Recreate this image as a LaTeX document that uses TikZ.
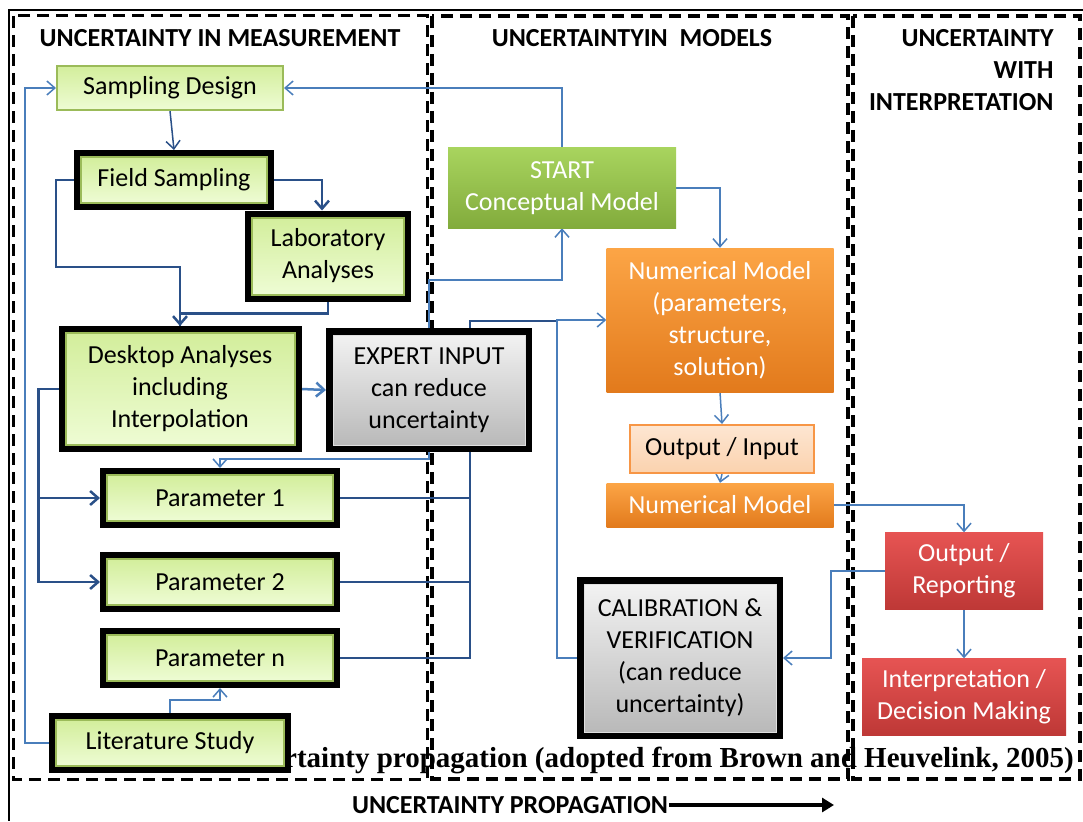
\documentclass[tikz,border=0pt]{standalone}
\usepackage{fontspec}
\setmainfont{Carlito}
\newfontfamily\capfont{Liberation Serif}
\usetikzlibrary{arrows.meta,backgrounds}
\definecolor{lineblue}{HTML}{4A7EBB}
\definecolor{darkblue}{HTML}{2A5088}
\definecolor{limetop}{HTML}{D3EE9C}
\definecolor{limebot}{HTML}{EEFCD4}
\definecolor{limeedge}{HTML}{9BBB59}
\definecolor{greytop}{HTML}{F2F2F2}
\definecolor{greybot}{HTML}{B9B9B9}
\definecolor{greentop}{HTML}{A8D45E}
\definecolor{greenbot}{HTML}{82AB3C}
\definecolor{orangetop}{HTML}{FCA546}
\definecolor{orangebot}{HTML}{E27A1C}
\definecolor{peachtop}{HTML}{FDE6D2}
\definecolor{peachbot}{HTML}{FBD2AE}
\definecolor{peachedge}{HTML}{F79646}
\definecolor{redtop}{HTML}{E65453}
\definecolor{redbot}{HTML}{BE3836}
\tikzset{
  boxtext/.style={align=center,font=\fontsize{26}{32}\selectfont},
  limebox/.style={boxtext,draw=limeedge,line width=2pt,top color=limetop,bottom color=limebot},
  greybox/.style={boxtext,draw=white!88!black,line width=1pt,top color=greytop,bottom color=greybot},
  greenbox/.style={boxtext,text=white,top color=greentop,bottom color=greenbot},
  orangebox/.style={boxtext,text=white,top color=orangetop,bottom color=orangebot},
  peachbox/.style={boxtext,draw=peachedge,line width=2pt,top color=peachtop,bottom color=peachbot},
  redbox/.style={boxtext,text=white,top color=redtop,bottom color=redbot},
  framed/.style={preaction={draw=black,line width=14pt},outer sep=7pt},
  title/.style={font=\fontsize{26}{32}\selectfont\bfseries},
  panel/.style={dash pattern=on 12pt off 7pt,line width=3pt},
  thinlink/.style={lineblue,line width=1.5pt},
  darklink/.style={darkblue,line width=2.5pt}
}
\begin{document}
\begin{tikzpicture}[x=1pt,y=-1pt,>={Straight Barb[length=8pt,width=14pt]}]
\useasboundingbox (0,0) rectangle (1083,821);
\node[title] (tmeas) at (220,38) {UNCERTAINTY IN MEASUREMENT};
\node[title] (tmod) at (632,38) {UNCERTAINTYIN\ \ MODELS};
\node[title,align=right,anchor=east] (tint) at (1057,70) {UNCERTAINTY\\WITH\\INTERPRETATION};
\node[title,inner sep=1pt] (prop) at (510,805) {UNCERTAINTY PROPAGATION};
\coordinate (propend) at (834,805);

\node[limebox,minimum width=226pt,minimum height=44pt] (sd) at (170,88) {Sampling Design};
\node[limebox,framed,minimum width=186pt,minimum height=46pt] (fs) at (174,180) {Field Sampling};
\node[limebox,framed,minimum width=152pt,minimum height=77pt] (lab) at (328,256) {Laboratory\\Analyses};
\node[limebox,framed,minimum width=229pt,minimum height=112pt] (desk) at (180,389) {Desktop Analyses\\including\\Interpolation};
\node[greybox,framed,minimum width=192pt,minimum height=110pt] (exp) at (429,390) {EXPERT INPUT\\can reduce\\uncertainty};
\node[limebox,framed,minimum width=226pt,minimum height=46pt] (p1) at (220,498) {Parameter 1};
\node[limebox,framed,minimum width=226pt,minimum height=46pt] (p2) at (220,582) {Parameter 2};
\node[limebox,framed,minimum width=226pt,minimum height=46pt] (pn) at (220,658) {Parameter n};
\node[limebox,framed,minimum width=228pt,minimum height=46pt] (lit) at (170,743) {Literature Study};
\node[greenbox,minimum width=228pt,minimum height=80pt] (start) at (562,188) {START\\Conceptual Model};
\node[orangebox,minimum width=227pt,minimum height=144pt] (nm1) at (720,320) {Numerical Model\\(parameters,\\structure,\\solution)};
\node[peachbox,minimum width=184pt,minimum height=48pt] (oi) at (722,449) {Output / Input};
\node[orangebox,minimum width=227pt,minimum height=44pt] (nm2) at (720,505) {Numerical Model};
\node[redbox,minimum width=158pt,minimum height=77pt] (rep) at (964,571) {Output /\\Reporting};
\node[redbox,minimum width=204pt,minimum height=77pt] (interp) at (964,697) {Interpretation /\\Decision Making};
\node[greybox,framed,minimum width=192pt,minimum height=148pt] (cal) at (680,658) {CALIBRATION \&\\VERIFICATION\\(can reduce\\uncertainty)};

\begin{scope}[on background layer]
\fill[white] (0,0) rectangle (1083,821);
\node[anchor=base west,inner sep=0pt,font=\capfont\bfseries\fontsize{29}{34}\selectfont] (cap) at (284,767) {rtainty propagation (adopted from Brown and Heuvelink, 2005)};
\draw[line width=1.5pt] (1083,10) -- (9,10) -- (9,821);
\draw[panel] (13,16) rectangle (427,779);
\draw[panel,line width=4.5pt] (432,16) rectangle (848,779);
\draw[panel,line width=3.5pt] (853,16) rectangle (1080,779);
\draw[thinlink,->] (lit.west) -- ++(-24,0) |- (sd.west);
\draw[thinlink,->] (start.north) |- (sd.east);
\draw[darklink,line width=1.5pt,->] (sd.south) -- (fs.north);
\draw[darklink,->] (fs.east) -| ([xshift=-6pt]lab.north);
\draw[darklink,->] (fs.west) -| ++(-18,87) -| (desk.north);
\draw[darklink] (lab.south) -- ++(0,12) -| (desk.north);
\draw[thinlink,line width=2.5pt,->] (desk.east) -- (exp.west);
\draw[darklink,->] (desk.west) -- ++(-20,0) |- (p1.west);
\draw[darklink,->] (desk.west) -- ++(-20,0) |- (p2.west);
\draw[thinlink,->] (exp.north) -- ++(0,-48) -| (start.south);
\draw[thinlink,->] (exp.south) -- ++(0,7) -| (p1.north);
\draw[darklink] (p1.east) -- ++(130,0);	\draw[darklink] (p2.east) -- ++(130,0);
\draw[darklink] (pn.east) -| ++(130,-337) -- ++(87,0);
\draw[thinlink,->] (cal.west) -- ++(-20,0) |- (nm1.west);
\draw[thinlink,->] (lit.north) -- ++(0,-13) -| (pn.south);
\draw[thinlink,->] (start.east) -| (nm1.north);
\draw[thinlink,->] (nm1.south) -- (oi.north);
\draw[thinlink,->] (oi.south) -- (nm2.north);
\draw[thinlink,->] (nm2.east) -| (rep.north);
\draw[thinlink,->] (rep.west) -- ++(-54,0) |- (cal.east);
\draw[thinlink,->] (rep.south) -- (interp.north);
\end{scope}
\draw[line width=4pt,-{Triangle[length=12pt,width=14pt]}] (prop.east) -- (propend);
\end{tikzpicture}
\end{document}
